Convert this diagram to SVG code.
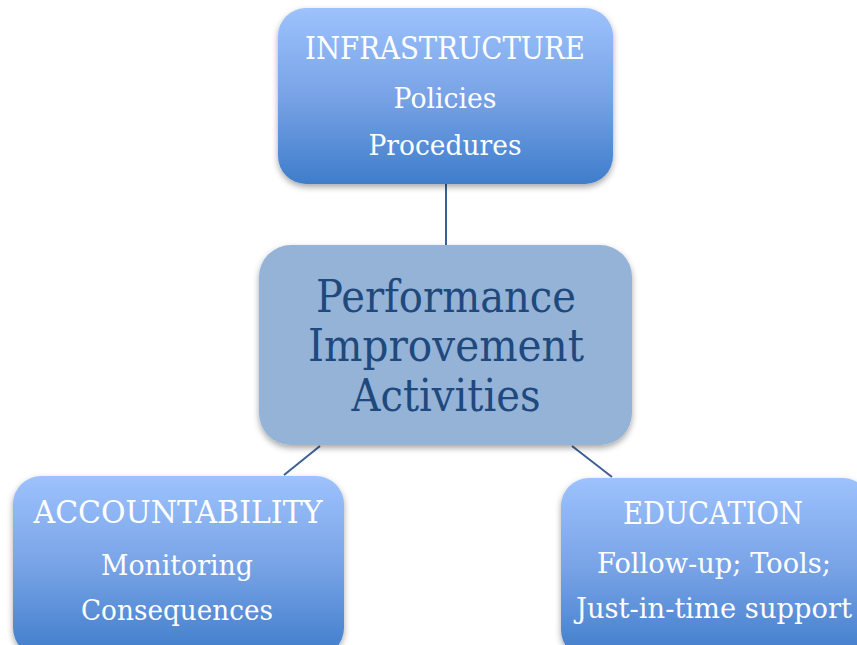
<svg xmlns="http://www.w3.org/2000/svg" width="857" height="645" viewBox="0 0 857 645">
<defs>
<linearGradient id="g" x1="0" y1="0" x2="0" y2="1">
<stop offset="0" stop-color="#9dc2fd"/>
<stop offset="0.5" stop-color="#78a3e6"/>
<stop offset="1" stop-color="#3f7dcb"/>
</linearGradient>
<filter id="sh" x="-10%" y="-10%" width="120%" height="125%">
<feDropShadow dx="0" dy="3" stdDeviation="3" flood-color="#000" flood-opacity="0.35"/>
</filter>
</defs>
<style>
.box{fill:url(#g);filter:url(#sh)}
.center{fill:#94b3d7;filter:url(#sh)}
.t{font-family:"DejaVu Serif","Liberation Serif",serif;fill:#fff;text-anchor:middle}
.c{font-family:"DejaVu Serif","Liberation Serif",serif;fill:#1f497d;text-anchor:middle;font-size:44px}
.h{font-size:31px}
.s{font-size:27px}
.conn line{stroke:#3b6194;stroke-width:2}
</style>
<rect width="857" height="645" fill="#fff"/>
<g class="conn">
<line x1="446" y1="184" x2="446" y2="246"/>
<line x1="320" y1="446" x2="284" y2="475"/>
<line x1="572" y1="446" x2="612" y2="477"/>
</g>
<g id="infrastructure">
<rect class="box" x="278" y="8" width="335" height="176" rx="28"/>
<text class="t h" x="445" y="59" textLength="280" lengthAdjust="spacingAndGlyphs">INFRASTRUCTURE</text>
<text class="t s" x="445" y="108" textLength="103" lengthAdjust="spacingAndGlyphs">Policies</text>
<text class="t s" x="445" y="155" textLength="153" lengthAdjust="spacingAndGlyphs">Procedures</text>
</g>
<g id="performance">
<rect class="center" x="259" y="245" width="373" height="200" rx="32"/>
<text class="c" x="446" y="312" textLength="260" lengthAdjust="spacingAndGlyphs">Performance</text>
<text class="c" x="446" y="361" textLength="276" lengthAdjust="spacingAndGlyphs">Improvement</text>
<text class="c" x="446" y="411" textLength="189" lengthAdjust="spacingAndGlyphs">Activities</text>
</g>
<g id="accountability">
<rect class="box" x="13" y="476" width="331" height="180" rx="28"/>
<text class="t h" x="178" y="523" textLength="289" lengthAdjust="spacingAndGlyphs">ACCOUNTABILITY</text>
<text class="t s" x="177" y="575" textLength="152" lengthAdjust="spacingAndGlyphs">Monitoring</text>
<text class="t s" x="177" y="620" textLength="192" lengthAdjust="spacingAndGlyphs">Consequences</text>
</g>
<g id="education">
<rect class="box" x="561" y="478" width="310" height="180" rx="28"/>
<text class="t h" x="713" y="524" textLength="180" lengthAdjust="spacingAndGlyphs">EDUCATION</text>
<text class="t s" x="714" y="573" textLength="234" lengthAdjust="spacingAndGlyphs">Follow-up; Tools;</text>
<text class="t s" x="714" y="618" textLength="276" lengthAdjust="spacingAndGlyphs">Just-in-time support</text>
</g>
</svg>
